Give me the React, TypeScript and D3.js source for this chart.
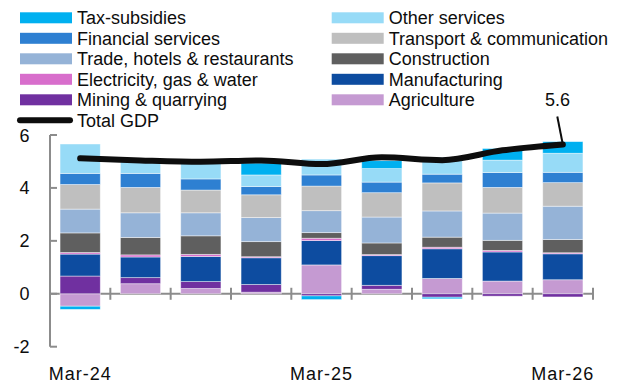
import React from "react";
import * as d3 from "d3";

const quarters = ["Mar-24", "Jun-24", "Sep-24", "Dec-24", "Mar-25", "Jun-25", "Sep-25", "Dec-25", "Mar-26"];
const xTickLabels = ["Mar-24", "Mar-25", "Mar-26"];
const yTicks = [-2, 0, 2, 4, 6];

const agriculture = [-0.47, 0.38, 0.2, 0.06, 1.09, 0.17, 0.58, 0.48, 0.53];
const mining = [0.67, 0.23, 0.26, 0.29, -0.08, 0.15, -0.13, -0.09, -0.12];
const manufacturing = [0.83, 0.78, 0.95, 1.01, 0.92, 1.12, 1.12, 1.1, 0.98];
const electricity = [0.06, 0.08, 0.08, 0.04, 0.09, 0.04, 0.06, 0.06, 0.04];
const construction = [0.74, 0.66, 0.7, 0.57, 0.21, 0.44, 0.38, 0.38, 0.5];
const trade = [0.9, 0.93, 0.87, 0.91, 0.83, 0.98, 0.99, 1.03, 1.26];
const transport = [0.93, 0.96, 0.86, 0.86, 0.93, 0.92, 1.06, 0.97, 0.89];
const financial = [0.42, 0.53, 0.42, 0.31, 0.42, 0.4, 0.33, 0.56, 0.39];
const otherServices = [1.11, 0.44, 0.6, 0.44, 0.6, 0.51, 0.64, 0.47, 0.72];
const taxSubsidies = [-0.12, 0, 0, 0.45, -0.14, 0.3, -0.06, 0.44, 0.44];
const totalGDP = [5.12, 5.04, 4.99, 5.04, 4.9, 5.16, 5.05, 5.42, 5.64];
const lastLabel = "5.6";

// stack order bottom-up
const series = [
  { key: "Agriculture", values: agriculture, color: "#C59AD2" },
  { key: "Mining & quarrying", values: mining, color: "#7030A0" },
  { key: "Manufacturing", values: manufacturing, color: "#0D4CA0" },
  { key: "Electricity, gas & water", values: electricity, color: "#D86ECC" },
  { key: "Construction", values: construction, color: "#5F5F5F" },
  { key: "Trade, hotels & restaurants", values: trade, color: "#95B3D7" },
  { key: "Transport & communication", values: transport, color: "#BFBFBF" },
  { key: "Financial services", values: financial, color: "#2E80D2" },
  { key: "Other services", values: otherServices, color: "#97DBF7" },
  { key: "Tax-subsidies", values: taxSubsidies, color: "#00B0F0" },
];

const W = 622;
const H = 387;
const FONT = "'Liberation Sans', Arial, sans-serif";
const TEXT = "#0D0D0D";

export default function App() {
  const x = d3.scaleBand<string>().domain(quarters).range([50, 593]).paddingInner(1 / 3).paddingOuter(1 / 6);
  const y = d3.scaleLinear().domain([-2, 6]).range([346.7, 135]);

  const rows = quarters.map((q, i) => {
    const r: any = { q };
    series.forEach((s) => (r[s.key] = s.values[i]));
    return r;
  });
  const stacked = d3
    .stack<any>()
    .keys(series.map((s) => s.key))
    .offset(d3.stackOffsetDiverging)(rows);

  const cx = (q: string) => (x(q) as number) + x.bandwidth() / 2;
  const line = d3
    .line<number>()
    .x((_, i) => cx(quarters[i]))
    .y((d) => y(d))
    .curve(d3.curveMonotoneX);

  const step = x.step();
  const y0 = y(0);
  const axisColor = "#8C8C8C";

  const legendOrder = [...series].reverse();
  const legendItems = legendOrder.map((s, i) => ({
    ...s,
    col: i % 2,
    row: Math.floor(i / 2),
  }));
  const rowY = (r: number) => 17.8 + r * 20.5;
  const colX = [20, 331.7];

  const lastI = quarters.length - 1;
  const lastX = cx(quarters[lastI]);
  const lastY = y(totalGDP[lastI]);

  return (
    <div style={{ position: "absolute", left: 0, top: 0 }}>
      <svg width={W} height={H} style={{ display: "block", fontFamily: FONT }}>
        <rect width={W} height={H} fill="#fff" />
        {/* axes */}
        <line x1={50} x2={50} y1={y(6)} y2={y(-2)} stroke={axisColor} strokeWidth={2} />
        {yTicks.map((t) => (
          <line key={"yt" + t} x1={50} x2={57} y1={y(t)} y2={y(t)} stroke={axisColor} strokeWidth={2} />
        ))}
        <line x1={50} x2={50 + step * quarters.length} y1={y0} y2={y0} stroke={axisColor} strokeWidth={2} />
        {quarters.map((q, i) => (
          <line
            key={"xt" + q}
            x1={50 + step * (i + 1)}
            x2={50 + step * (i + 1)}
            y1={y0 - 6}
            y2={y0 + 6}
            stroke={axisColor}
            strokeWidth={2}
          />
        ))}
        {yTicks.map((t) => (
          <text key={"yl" + t} x={29.5} y={y(t) + 6.5} textAnchor="end" fontSize={18} fill={TEXT}>
            {t}
          </text>
        ))}
        {xTickLabels.map((l) => (
          <text key={"xl" + l} x={cx(l)} y={380} textAnchor="middle" fontSize={18} letterSpacing={1} fill={TEXT}>
            {l}
          </text>
        ))}
        {/* bars */}
        {stacked.map((layer, si) => (
          <g key={layer.key} fill={series[si].color}>
            {layer.map((d, i) => {
              const top = y(Math.max(d[0], d[1]));
              const bot = y(Math.min(d[0], d[1]));
              if (bot - top <= 0) return null;
              return (
                <rect
                  key={i}
                  x={x(quarters[i])}
                  y={top}
                  width={x.bandwidth()}
                  height={bot - top}
                  stroke="#ffffff"
                  strokeOpacity={0.55}
                  strokeWidth={0.8}
                />
              );
            })}
          </g>
        ))}
        {/* GDP line */}
        <path
          d={line(totalGDP) as string}
          fill="none"
          stroke="#0D0D0D"
          strokeWidth={6}
          strokeLinecap="round"
          strokeLinejoin="round"
        />
        <line x1={557.3} y1={116.5} x2={lastX} y2={lastY} stroke="#0D0D0D" strokeWidth={2} />
        <text x={557.5} y={106} textAnchor="middle" fontSize={18} fill={TEXT}>
          {lastLabel}
        </text>
        {/* legend */}
        {legendItems.map((it) => (
          <g key={it.key}>
            <rect x={colX[it.col]} y={rowY(it.row) - 5.5} width={52} height={11} fill={it.color} />
            <text x={colX[it.col] + 57} y={rowY(it.row) + 6.2} fontSize={18} fill={TEXT}>
              {it.key}
            </text>
          </g>
        ))}
        <line x1={20} x2={70} y1={rowY(5)} y2={rowY(5)} stroke="#0D0D0D" strokeWidth={6} strokeLinecap="round" />
        <text x={77} y={rowY(5) + 6.2} fontSize={18} fill={TEXT}>
          Total GDP
        </text>
      </svg>
    </div>
  );
}
